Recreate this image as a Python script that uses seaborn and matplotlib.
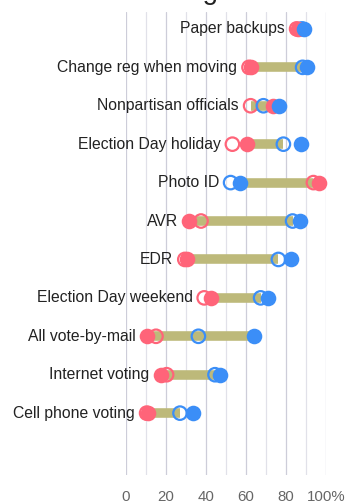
import matplotlib
matplotlib.use("Agg")
import matplotlib.pyplot as plt
import seaborn as sns
import pandas as pd

# Support (%) for each proposal: filled = current, hollow = earlier
categories = [
    "Paper backups", "Change reg when moving", "Nonpartisan officials",
    "Election Day holiday", "Photo ID", "AVR", "EDR", "Election Day weekend",
    "All vote-by-mail", "Internet voting", "Cell phone voting",
]
rep_now = [86, 62.5, 73.7, 60.3, 96.7, 31.7, 30.3, 42.3, 10.7, 17.5, 10.8]
rep_before = [85.3, 61.5, 62.3, 53.2, 93.7, 37.5, 29.4, 39.1, 15.0, 20.3, 10.3]
dem_now = [89, 90.3, 76.7, 87.3, 57.0, 87.0, 82.3, 71.2, 64.0, 47.0, 33.3]
dem_before = [88, 88.3, 68.7, 78.7, 52.3, 83.3, 76.2, 67.3, 36.2, 44.5, 27.0]
gap_lo = [86, 62.5, 62.3, 60.3, 57.0, 31.7, 30.3, 42.3, 10.7, 17.5, 10.8]
gap_hi = [88, 88.3, 74.0, 78.7, 93.7, 83.3, 76.2, 67.3, 64.0, 45.0, 27.0]
x_ticks = [0, 20, 40, 60, 80, 100]
x_tick_labels = ["0", "20", "40", "60", "80", "100%"]
title = "Voting reforms"

RED = "#ff6479"
BLUE = "#3b8ef7"
OLIVE = "#bdb97a"

df = pd.DataFrame({
    "category": categories,
    "row": range(len(categories)),
    "rep_now": rep_now, "rep_before": rep_before,
    "dem_now": dem_now, "dem_before": dem_before,
    "lo": gap_lo, "hi": gap_hi,
})

sns.set_theme(style="white")
plt.rcParams["font.family"] = ["Liberation Sans", "DejaVu Sans"]

fig = plt.figure(figsize=(3.46, 5.04), dpi=100)
ax = fig.add_axes([126 / 346, 1 - 475 / 504, 200 / 346, 463 / 504])

# title sits above the top edge
fig.text(230 / 346, 1 + 1 / 504, title, ha="center", va="baseline",
         fontsize=20, color="#222222")

# vertical grid
for v in range(0, 101, 10):
    ax.axvline(v, color="#cdcdd9" if v % 20 == 0 else "#e1e1e9", lw=0.9, zorder=0)

# connecting bars
ax.hlines(df["row"], df["lo"], df["hi"], color=OLIVE, lw=6.9, zorder=2,
          capstyle="butt")

hollow_kw = dict(s=94, facecolor="none", linewidth=1.6, zorder=3, clip_on=False)
filled_kw = dict(s=126, linewidth=0, zorder=4, clip_on=False)
sns.scatterplot(data=df, x="rep_before", y="row", ax=ax, edgecolor=RED, **hollow_kw)
sns.scatterplot(data=df, x="dem_before", y="row", ax=ax, edgecolor=BLUE, **hollow_kw)
sns.scatterplot(data=df, x="rep_now", y="row", ax=ax, color=RED, **filled_kw)
sns.scatterplot(data=df, x="dem_now", y="row", ax=ax, color=BLUE, **filled_kw)

# category labels just left of each row's lowest marker
mins = df[["rep_now", "rep_before", "dem_now", "dem_before"]].min(axis=1)
for r, (name, m) in enumerate(zip(categories, mins)):
    ax.annotate(name, xy=(m, r), xytext=(-8.3, 0), textcoords="offset points",
                ha="right", va="center", fontsize=11.3, color="#222222",
                annotation_clip=False)

ax.set_xlim(0, 100)
ax.set_ylim(11.61, -0.44)
ax.set_xticks(x_ticks)
ax.set_xticklabels(x_tick_labels)
ax.set_yticks([])
ax.set_xlabel("")
ax.set_ylabel("")
ax.tick_params(axis="x", length=0, pad=10.5, labelsize=10.8, labelcolor="#666666")
for s in ax.spines.values():
    s.set_visible(False)

fig.savefig("out.png", dpi=100)
